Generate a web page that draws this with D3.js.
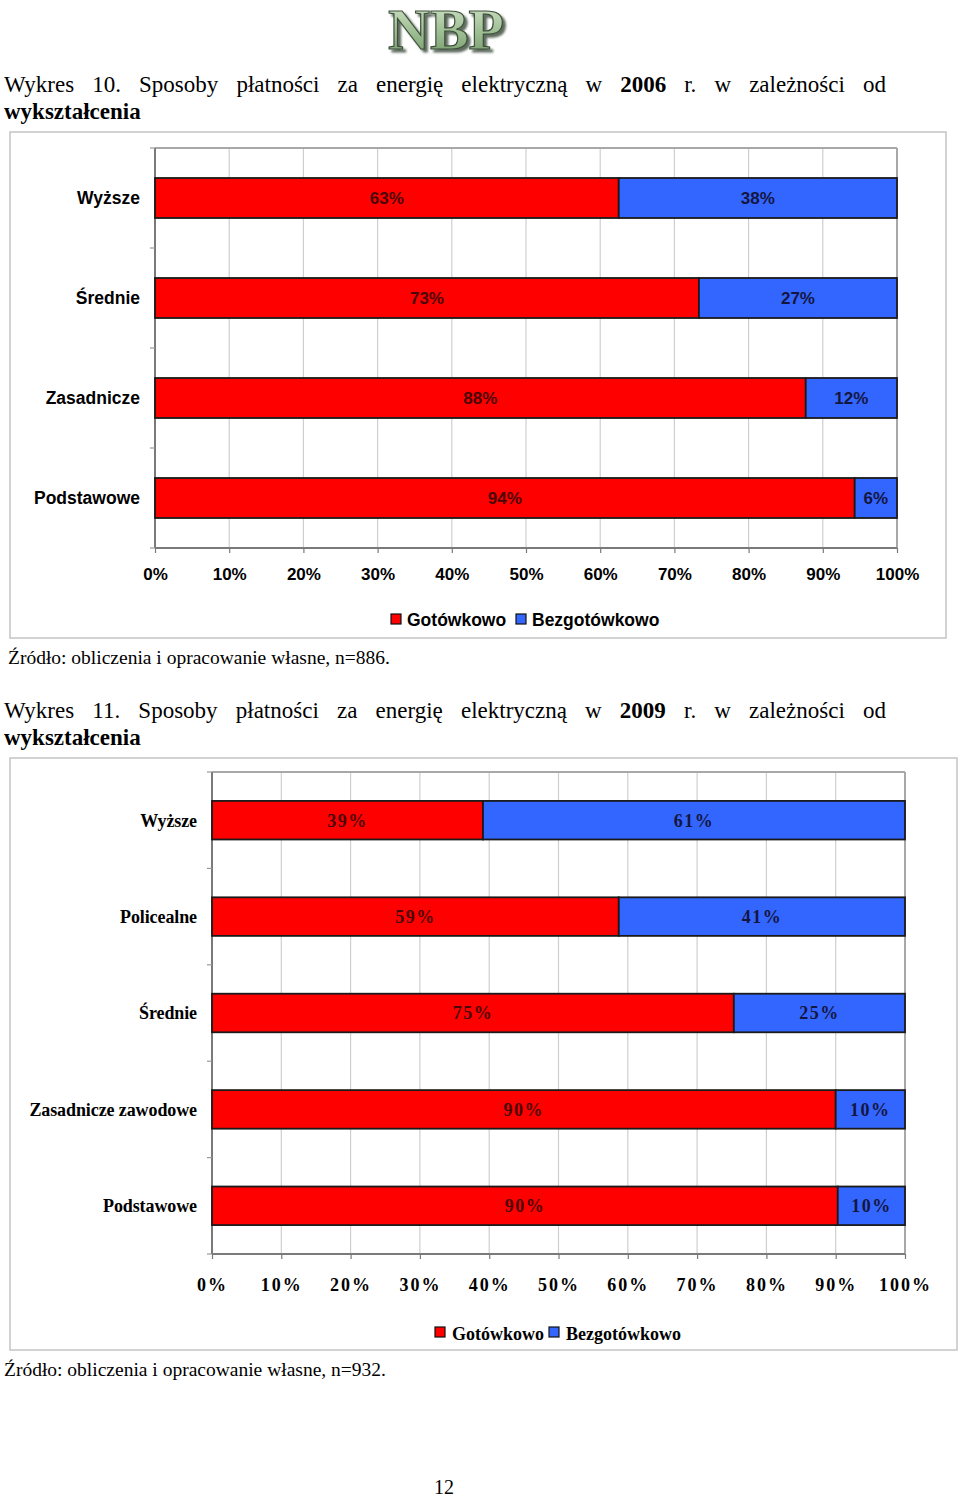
<!DOCTYPE html>
<html><head><meta charset="utf-8">
<script src="https://cdn.jsdelivr.net/npm/d3@7"></script>
<style>
html,body{margin:0;padding:0;background:#fff;}
svg{display:block;}
</style>
</head><body>
<svg id="page" width="960" height="1498"></svg>
<script>
// ---------- DATA ----------
const seriesNames = ["Gotówkowo", "Bezgotówkowo"];
const xTickValues = [0, 10, 20, 30, 40, 50, 60, 70, 80, 90, 100];

const categories2006 = ["Wyższe", "Średnie", "Zasadnicze", "Podstawowe"];
const cash2006 = [62.5, 73.3, 87.7, 94.3];
const cashless2006 = [37.5, 26.7, 12.3, 5.7];

const categories2009 = ["Wyższe", "Policealne", "Średnie", "Zasadnicze zawodowe", "Podstawowe"];
const cash2009 = [39.1, 58.7, 75.3, 90.0, 90.3];
const cashless2009 = [60.9, 41.3, 24.7, 10.0, 9.7];

const title1Words = ["Wykres", "10.", "Sposoby", "płatności", "za", "energię", "elektryczną", "w", "2006", "r.", "w", "zależności", "od"];
const title2Words = ["Wykres", "11.", "Sposoby", "płatności", "za", "energię", "elektryczną", "w", "2009", "r.", "w", "zależności", "od"];
const boldWords = ["2006", "2009"];
const titleLine2 = "wykształcenia";
const source1 = "Źródło: obliczenia i opracowanie własne, n=886.";
const source2 = "Źródło: obliczenia i opracowanie własne, n=932.";
const pageNumber = "12";

// ---------- DRAW ----------
const svg = d3.select("#page");
svg.append("rect").attr("width", 960).attr("height", 1498).attr("fill", "#fff");

const SERIF = "'Liberation Serif', 'Times New Roman', serif";
const SANS = "'Liberation Sans', Arial, sans-serif";
const RED = "#ff0000", BLUE = "#3366ff";

// Logo
const defs = svg.append("defs");
const grad = defs.append("linearGradient").attr("id", "logoGrad").attr("x1", 0).attr("y1", 0).attr("x2", 0).attr("y2", 1);
grad.append("stop").attr("offset", "0%").attr("stop-color", "#d8e8d0");
grad.append("stop").attr("offset", "55%").attr("stop-color", "#9dbd92");
grad.append("stop").attr("offset", "100%").attr("stop-color", "#6f9464");
const filt = defs.append("filter").attr("id", "logoShadow").attr("x", "-10%").attr("y", "-10%").attr("width", "130%").attr("height", "130%");
filt.append("feDropShadow").attr("dx", 3).attr("dy", 3).attr("stdDeviation", 1.2)
  .attr("flood-color", "#2b3a2b").attr("flood-opacity", 0.75);
svg.append("text").attr("x", 446).attr("y", 49).attr("text-anchor", "middle")
  .attr("font-family", SERIF).attr("font-weight", "bold").attr("font-size", 58)
  .attr("fill", "url(#logoGrad)").attr("stroke", "#3d4f3a").attr("stroke-width", 1.2)
  .attr("filter", "url(#logoShadow)").text("NBP");

// Justified title
function drawTitle(words, y, left, right) {
  const g = svg.append("g");
  const nodes = words.map(w => g.append("text")
    .attr("font-family", SERIF).attr("font-size", 23)
    .attr("font-weight", boldWords.includes(w) ? "bold" : "normal")
    .attr("fill", "#000").attr("y", y).text(w));
  const widths = nodes.map(n => n.node().getComputedTextLength());
  const total = d3.sum(widths);
  const gap = (right - left - total) / (words.length - 1);
  let x = left;
  nodes.forEach((n, i) => { n.attr("x", x); x += widths[i] + gap; });
  svg.append("text").attr("x", left).attr("y", y + 27)
    .attr("font-family", SERIF).attr("font-size", 23).attr("font-weight", "bold")
    .attr("fill", "#000").text(titleLine2);
}
drawTitle(title1Words, 92, 4, 886);
drawTitle(title2Words, 718, 4, 886);

function drawChart(cfg) {
  const g = svg.append("g");
  // Outer frame
  g.append("rect").attr("x", cfg.frame[0]).attr("y", cfg.frame[1])
    .attr("width", cfg.frame[2] - cfg.frame[0]).attr("height", cfg.frame[3] - cfg.frame[1])
    .attr("fill", "#fff").attr("stroke", "#c4c4c4").attr("stroke-width", 1.5);

  const x = d3.scaleLinear().domain([0, 100]).range([cfg.plot[0], cfg.plot[2]]);
  const y = d3.scaleBand().domain(cfg.categories).range([cfg.plot[1], cfg.plot[3]])
    .paddingInner(0.6).paddingOuter(0.3);
  const step = y.step();

  // Gridlines
  g.append("g").selectAll("line").data(xTickValues.slice(1)).join("line")
    .attr("x1", d => x(d)).attr("x2", d => x(d))
    .attr("y1", cfg.plot[1]).attr("y2", cfg.plot[3])
    .attr("stroke", d => d === 100 ? "#a8a8a8" : "#cfcfcf").attr("stroke-width", d => d === 100 ? 2 : 1.2);
  // top border
  g.append("line").attr("x1", cfg.plot[0]).attr("x2", cfg.plot[2])
    .attr("y1", cfg.plot[1]).attr("y2", cfg.plot[1]).attr("stroke", "#a8a8a8").attr("stroke-width", 2);

  // Bottom axis
  const xAxis = d3.axisBottom(x).tickValues(xTickValues).tickFormat(d => d + "%").tickSize(5).tickPadding(cfg.tickPad);
  const ax = g.append("g").attr("transform", `translate(0,${cfg.plot[3]})`).call(xAxis);
  ax.select(".domain").attr("stroke", "#7a7a7a").attr("stroke-width", 2).attr("d", `M${cfg.plot[0]},0H${cfg.plot[2]}`);
  ax.selectAll(".tick line").attr("stroke", "#7a7a7a").attr("stroke-width", 1.2);
  ax.selectAll(".tick text").attr("font-family", cfg.font).attr("font-weight", "bold")
    .attr("font-size", cfg.tickFont).attr("fill", "#000").attr("letter-spacing", cfg.tickSpacing);

  // Left axis line and boundary ticks
  g.append("line").attr("x1", cfg.plot[0]).attr("x2", cfg.plot[0])
    .attr("y1", cfg.plot[1]).attr("y2", cfg.plot[3]).attr("stroke", "#7a7a7a").attr("stroke-width", 2);
  const bounds = d3.range(cfg.categories.length + 1).map(i => cfg.plot[1] + i * step);
  g.append("g").selectAll("line").data(bounds).join("line")
    .attr("x1", cfg.plot[0] - 5).attr("x2", cfg.plot[0]).attr("y1", d => d).attr("y2", d => d)
    .attr("stroke", "#9a9a9a").attr("stroke-width", 1.2);

  // Category labels
  g.append("g").selectAll("text").data(cfg.categories).join("text")
    .attr("x", cfg.labelX).attr("y", d => y(d) + y.bandwidth() / 2)
    .attr("dy", "0.35em").attr("text-anchor", "end")
    .attr("font-family", cfg.font).attr("font-weight", "bold").attr("font-size", cfg.catFont)
    .attr("letter-spacing", cfg.catSpacing).attr("fill", "#000").text(d => d);

  // Bars
  const rows = cfg.categories.map((c, i) => ({ c, a: cfg.cash[i], b: cfg.cashless[i] }));
  const segs = [];
  rows.forEach(r => {
    segs.push({ c: r.c, x0: 0, x1: r.a, v: r.a, s: 0 });
    segs.push({ c: r.c, x0: r.a, x1: r.a + r.b, v: r.b, s: 1 });
  });
  g.append("g").selectAll("rect").data(segs).join("rect")
    .attr("x", d => x(d.x0)).attr("width", d => x(d.x1) - x(d.x0))
    .attr("y", d => y(d.c)).attr("height", y.bandwidth())
    .attr("fill", d => d.s === 0 ? RED : BLUE)
    .attr("stroke", "#1a1a1a").attr("stroke-width", 1.8);
  g.append("g").selectAll("text").data(segs).join("text")
    .attr("x", d => (x(d.x0) + x(d.x1)) / 2).attr("y", d => y(d.c) + y.bandwidth() / 2)
    .attr("dy", "0.35em").attr("text-anchor", "middle")
    .attr("font-family", cfg.font).attr("font-weight", "bold").attr("font-size", cfg.valFont)
    .attr("letter-spacing", cfg.valSpacing)
    .attr("fill", d => d.s === 0 ? "#4a0606" : "#14163f")
    .text(d => Math.round(d.v) + "%");

  // Legend
  const lg = g.append("g");
  seriesNames.forEach((name, i) => {
    lg.append("rect").attr("x", cfg.legend[i][0]).attr("y", cfg.legend[i][1])
      .attr("width", 10).attr("height", 10).attr("fill", i === 0 ? RED : BLUE)
      .attr("stroke", "#111").attr("stroke-width", 1.2);
    lg.append("text").attr("x", cfg.legend[i][2]).attr("y", cfg.legend[i][3])
      .attr("font-family", cfg.font).attr("font-weight", "bold").attr("font-size", cfg.legFont)
      .attr("fill", "#000").text(name);
  });

  // Source
  svg.append("text").attr("x", cfg.source[0]).attr("y", cfg.source[1])
    .attr("font-family", SERIF).attr("font-size", 19.5).attr("fill", "#000").text(cfg.sourceText);
}

drawChart({
  frame: [10, 132, 946, 638],
  plot: [155, 148, 897, 548],
  categories: categories2006, cash: cash2006, cashless: cashless2006,
  font: SANS, tickFont: 17, tickSpacing: 0, tickPad: 15,
  catFont: 17.5, catSpacing: 0, labelX: 140,
  valFont: 17, valSpacing: 0,
  legend: [[391, 614, 407, 626], [516, 614, 532, 626]], legFont: 17.5,
  source: [8, 664], sourceText: source1
});

drawChart({
  frame: [10, 758, 957, 1350],
  plot: [212, 772, 905, 1254],
  categories: categories2009, cash: cash2009, cashless: cashless2009,
  font: SERIF, tickFont: 18, tickSpacing: 2, tickPad: 19,
  catFont: 18, catSpacing: -0.1, labelX: 197,
  valFont: 18, valSpacing: 1.5,
  legend: [[435, 1327, 452, 1340], [549, 1327, 566, 1340]], legFont: 18,
  source: [4, 1376], sourceText: source2
});

svg.append("text").attr("x", 444).attr("y", 1494).attr("text-anchor", "middle")
  .attr("font-family", SERIF).attr("font-size", 20).attr("fill", "#000").text(pageNumber);
</script>
</body></html>
